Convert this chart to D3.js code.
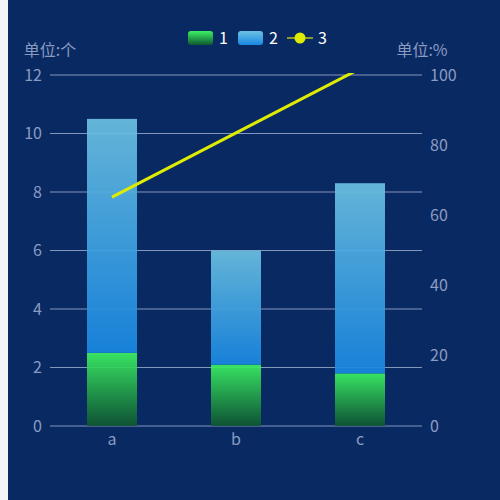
<!DOCTYPE html>
<html lang="zh">
<head>
  <meta charset="UTF-8"/>
  <title>Bar + Line</title>
  <script src="https://d3js.org/d3.v7.min.js"></script>
  <style>
    body { margin: 0; background: #f2f4f8; }
    svg { display: block; }
    text { font-family: "Noto Sans CJK SC", "Noto Sans", sans-serif; }
  </style>
</head>
<body>
<script>
  var categories = ["a", "b", "c"];
  var series1 = [2.5, 2.1, 1.8];
  var series2 = [8.0, 3.9, 6.5];
  var series3 = [65.2, 83.5, 101.8];
  var leftTicks = [0, 2, 4, 6, 8, 10, 12];
  var rightTicks = [0, 20, 40, 60, 80, 100];
  var legendNames = ["1", "2", "3"];

  var w = 500, h = 500;
  var gLeft = 50, gRight = 422, gTop = 75, gBottom = 426;
  var labelColor = "#8a9bc2";
  var gridColor = "#8596bd";

  var svg = d3.select("body").append("svg")
              .attr("width", w)
              .attr("height", h);

  // background, leaving a light strip at the left edge
  svg.append("rect")
     .attr("x", 8).attr("y", 0)
     .attr("width", w - 8).attr("height", h)
     .attr("fill", "#092962");

  var defs = svg.append("defs");
  function grad(id, c1, c2) {
    var g = defs.append("linearGradient").attr("id", id)
                .attr("x1", 0).attr("y1", 0).attr("x2", 0).attr("y2", 1);
    g.append("stop").attr("offset", "0%").attr("stop-color", c1);
    g.append("stop").attr("offset", "100%").attr("stop-color", c2);
  }
  grad("g1", "#3cf263", "#0f5631");
  grad("g2", "#6cc1e1", "#1988e2");

  defs.append("clipPath").attr("id", "clip")
      .append("rect")
      .attr("x", gLeft).attr("y", gTop - 2)
      .attr("width", gRight - gLeft).attr("height", gBottom - gTop + 4);

  var x = d3.scaleBand().domain(categories).range([gLeft, gRight]);
  var y = d3.scaleLinear().domain([0, 12]).range([gBottom, gTop]);
  var y2 = d3.scaleLinear().domain([0, 100]).range([gBottom, gTop]);

  // grid lines
  svg.append("g").selectAll("line")
     .data(leftTicks).enter().append("line")
     .attr("x1", gLeft).attr("x2", gRight)
     .attr("y1", function(d) { return y(d); })
     .attr("y2", function(d) { return y(d); })
     .attr("stroke", gridColor).attr("stroke-width", 1);

  // axis labels
  var yAxis = d3.axisLeft(y).tickValues(leftTicks).tickSize(0).tickPadding(8);
  var gl = svg.append("g").attr("transform", "translate(" + gLeft + ",0)").call(yAxis);
  gl.select(".domain").remove();
  gl.selectAll("text").attr("fill", labelColor).style("font-size", "16px");

  var yAxis2 = d3.axisRight(y2).tickValues(rightTicks).tickSize(0).tickPadding(8);
  var gr = svg.append("g").attr("transform", "translate(" + gRight + ",0)").call(yAxis2);
  gr.select(".domain").remove();
  gr.selectAll("text").attr("fill", labelColor).style("font-size", "16px");

  var xAxis = d3.axisBottom(x).tickSize(0).tickPadding(8);
  var gx = svg.append("g").attr("transform", "translate(0," + gBottom + ")").call(xAxis);
  gx.select(".domain").remove();
  gx.selectAll("text").attr("fill", labelColor).style("font-size", "16px");

  svg.append("text").attr("x", gLeft).attr("y", 56)
     .attr("text-anchor", "middle").attr("fill", labelColor)
     .style("font-size", "16px").text("单位:个");
  svg.append("text").attr("x", gRight).attr("y", 56)
     .attr("text-anchor", "middle").attr("fill", labelColor)
     .style("font-size", "16px").text("单位:%");

  // stacked bars
  var bw = 50;
  var bars = svg.append("g").attr("opacity", 0.92);
  bars.selectAll("rect.s1")
      .data(categories).enter().append("rect")
      .attr("class", "s1")
      .attr("x", function(d) { return x(d) + x.bandwidth() / 2 - bw / 2; })
      .attr("width", bw)
      .attr("y", function(d, i) { return y(series1[i]); })
      .attr("height", function(d, i) { return y(0) - y(series1[i]); })
      .attr("fill", "url(#g1)");
  bars.selectAll("rect.s2")
      .data(categories).enter().append("rect")
      .attr("class", "s2")
      .attr("x", function(d) { return x(d) + x.bandwidth() / 2 - bw / 2; })
      .attr("width", bw)
      .attr("y", function(d, i) { return y(series1[i] + series2[i]); })
      .attr("height", function(d, i) { return y(series1[i]) - y(series1[i] + series2[i]); })
      .attr("fill", "url(#g2)");

  // line on right axis
  var line = d3.line()
               .x(function(d, i) { return x(categories[i]) + x.bandwidth() / 2; })
               .y(function(d) { return y2(d); });
  svg.append("path")
     .datum(series3)
     .attr("d", line)
     .attr("clip-path", "url(#clip)")
     .attr("fill", "none")
     .attr("stroke", "#dfeb00")
     .attr("stroke-width", 3);

  // legend
  var lg = svg.append("g").style("font-size", "16px");
  var lx = [188, 238, 287];
  lg.append("rect").attr("x", lx[0]).attr("y", 31).attr("width", 25).attr("height", 14)
    .attr("rx", 3).attr("fill", "url(#g1)");
  lg.append("rect").attr("x", lx[1]).attr("y", 31).attr("width", 25).attr("height", 14)
    .attr("rx", 3).attr("fill", "url(#g2)");
  lg.append("line").attr("x1", lx[2]).attr("x2", lx[2] + 26).attr("y1", 38).attr("y2", 38)
    .attr("stroke", "#8a9a2a").attr("stroke-width", 2);
  lg.append("circle").attr("cx", lx[2] + 13).attr("cy", 38).attr("r", 5.5)
    .attr("fill", "#dfeb00");
  lg.selectAll("text.leg")
    .data(legendNames).enter().append("text")
    .attr("class", "leg")
    .attr("x", function(d, i) { return lx[i] + 31; })
    .attr("y", 44)
    .attr("fill", "#ffffff")
    .text(function(d) { return d; });
</script>
</body>
</html>
